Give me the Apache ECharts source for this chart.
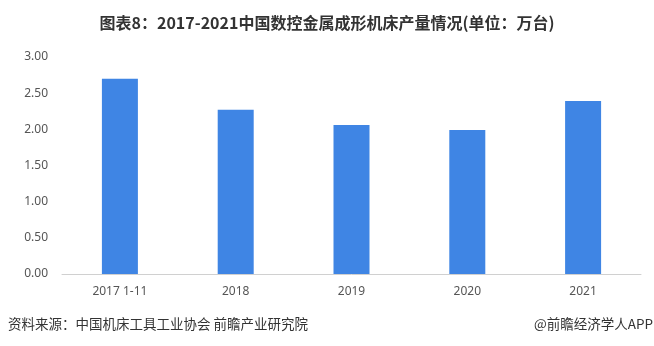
<!DOCTYPE html>
<html><head><meta charset="utf-8">
<script src="https://cdn.jsdelivr.net/npm/echarts@6/dist/echarts.min.js"></script>
<style>html,body{margin:0;padding:0;background:#fff}#c{width:654px;height:346px}</style>
</head><body><div id="c"></div>
<script>
const categories = ['2017 1-11', '2018', '2019', '2020', '2021'];
const production = [2.70, 2.27, 2.06, 1.99, 2.39];
const titleText = '图表8：2017-2021中国数控金属成形机床产量情况(单位：万台)';
const sourceText = '资料来源：中国机床工具工业协会 前瞻产业研究院';
const brandText = '@前瞻经济学人APP';

const chart = echarts.init(document.getElementById('c'));
chart.setOption({
  animation: false,
  title: {
    text: titleText, left: 'center', top: 10,
    textStyle: { fontSize: 16, fontWeight: 'bold', color: '#333', fontFamily: 'Noto Sans CJK SC' }
  },
  grid: { left: 62, right: 13, top: 57, bottom: 72 },
  xAxis: {
    type: 'category', data: categories,
    axisLine: { lineStyle: { color: '#d0d0d0' } },
    axisTick: { show: false },
    axisLabel: { color: '#555', fontSize: 12, margin: 12, fontFamily: 'Noto Sans' }
  },
  yAxis: {
    type: 'value', min: 0, max: 3, interval: 0.5,
    axisLine: { show: false }, axisTick: { show: false },
    splitLine: { show: false },
    axisLabel: { color: '#555', fontSize: 12, margin: 14, fontFamily: 'Noto Sans', formatter: v => v.toFixed(2) }
  },
  series: [{
    type: 'bar', data: production, barWidth: 36,
    itemStyle: { color: '#3f85e4' }
  }],
  graphic: [
    { type: 'text', left: 8, top: 317, style: { text: sourceText, fontSize: 13.5, fill: '#333', fontFamily: 'Noto Sans CJK SC' } },
    { type: 'text', right: 1, top: 317, style: { text: brandText, fontSize: 13.5, fill: '#333', fontFamily: 'Noto Sans CJK SC' } }
  ]
});
</script></body></html>
